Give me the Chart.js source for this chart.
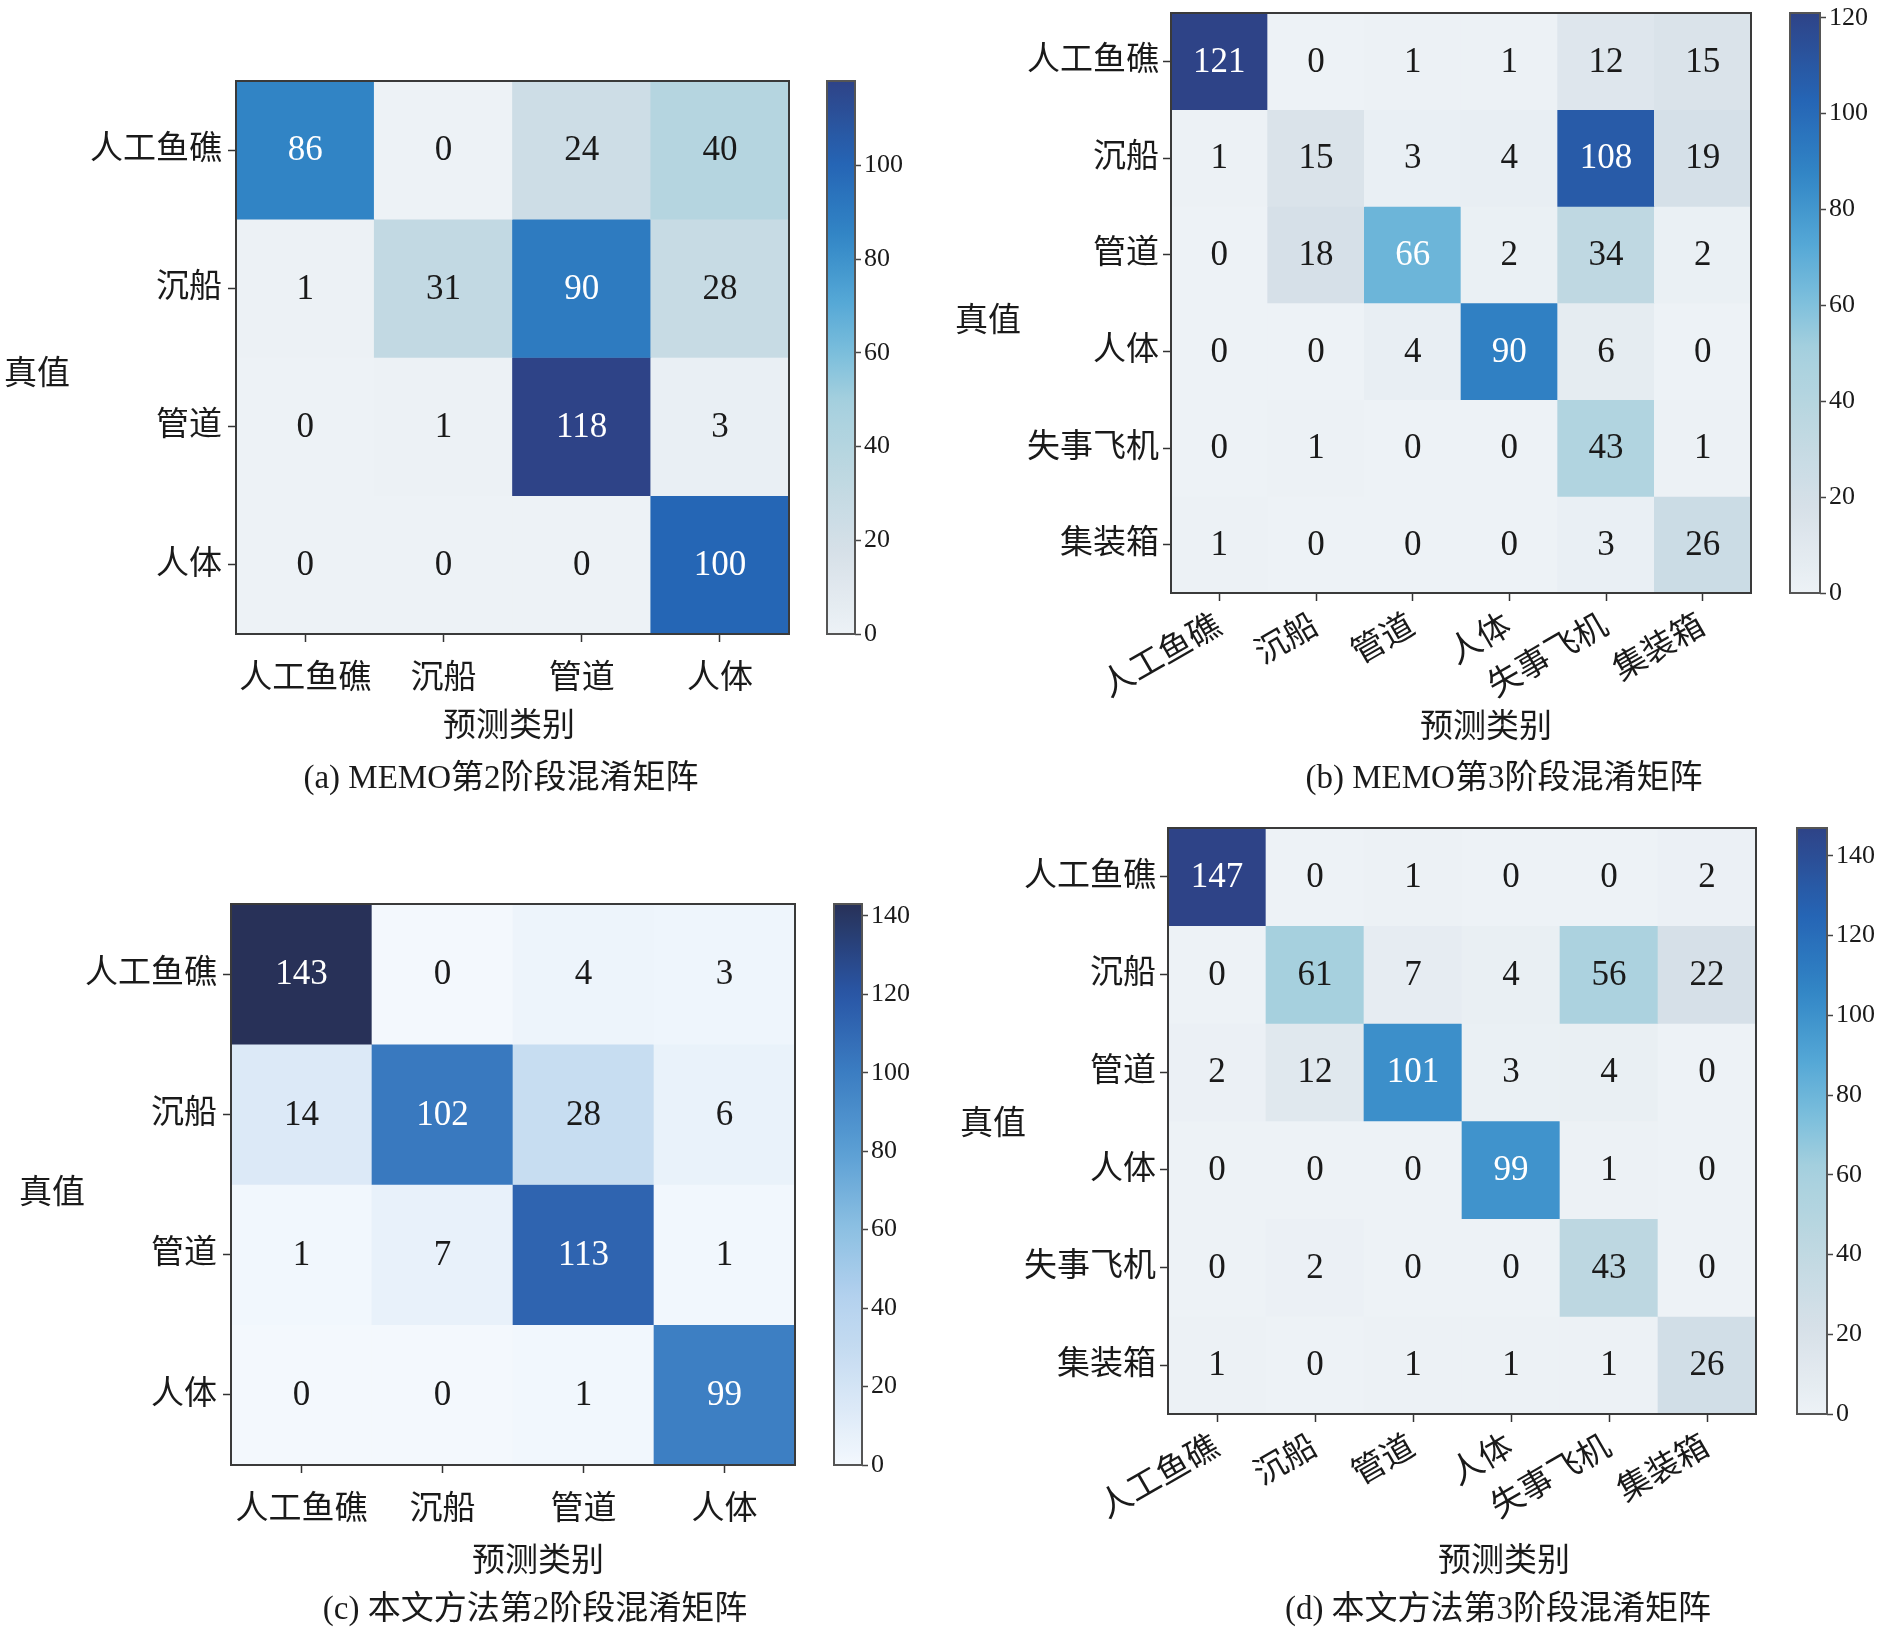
<!DOCTYPE html>
<html><head><meta charset="utf-8">
<script src="https://cdn.jsdelivr.net/npm/chart.js@4.4.1/dist/chart.umd.min.js"></script>
<style>
html,body{margin:0;padding:0;background:#fff;}
body{width:1885px;height:1627px;position:relative;overflow:hidden;}
canvas{position:absolute;}
</style></head><body>
<canvas id="hmA" width="942" height="813" style="left:0px;top:0px;width:942px;height:813px"></canvas>
<canvas id="hmB" width="943" height="813" style="left:942px;top:0px;width:943px;height:813px"></canvas>
<canvas id="hmC" width="942" height="814" style="left:0px;top:813px;width:942px;height:814px"></canvas>
<canvas id="hmD" width="943" height="814" style="left:942px;top:813px;width:943px;height:814px"></canvas>
<canvas id="cbA" width="120" height="600" style="left:815px;top:60px;width:120px;height:600px"></canvas>
<canvas id="cbB" width="105" height="610" style="left:1780px;top:0px;width:105px;height:610px"></canvas>
<canvas id="cbC" width="120" height="610" style="left:822px;top:880px;width:120px;height:610px"></canvas>
<canvas id="cbD" width="100" height="630" style="left:1785px;top:805px;width:100px;height:630px"></canvas>
<script>
// ---------------- data ----------------
const classes4 = ['人工鱼礁', '沉船', '管道', '人体'];
const classes6 = ['人工鱼礁', '沉船', '管道', '人体', '失事飞机', '集装箱'];

const memoStage2 = [
  [86, 0, 24, 40],
  [1, 31, 90, 28],
  [0, 1, 118, 3],
  [0, 0, 0, 100]
];
const memoStage3 = [
  [121, 0, 1, 1, 12, 15],
  [1, 15, 3, 4, 108, 19],
  [0, 18, 66, 2, 34, 2],
  [0, 0, 4, 90, 6, 0],
  [0, 1, 0, 0, 43, 1],
  [1, 0, 0, 0, 3, 26]
];
const oursStage2 = [
  [143, 0, 4, 3],
  [14, 102, 28, 6],
  [1, 7, 113, 1],
  [0, 0, 1, 99]
];
const oursStage3 = [
  [147, 0, 1, 0, 0, 2],
  [0, 61, 7, 4, 56, 22],
  [2, 12, 101, 3, 4, 0],
  [0, 0, 0, 99, 1, 0],
  [0, 2, 0, 0, 43, 0],
  [1, 0, 1, 1, 1, 26]
];
const colorbarStep = 20;
const yTitle = '真值';
const xTitle = '预测类别';
const captionA = '(a) MEMO第2阶段混淆矩阵';
const captionB = '(b) MEMO第3阶段混淆矩阵';
const captionC = '(c) 本文方法第2阶段混淆矩阵';
const captionD = '(d) 本文方法第3阶段混淆矩阵';

// ---------------- styles ----------------
const FONT = '"Liberation Serif", "Noto Sans CJK SC", serif';
const TXT = '#1a1a1a';

function hexToRgb(h){ const n = parseInt(h.slice(1),16); return [(n>>16)&255,(n>>8)&255,n&255]; }
function makeCmap(stops){
  const s = stops.map(([t,c]) => [t, hexToRgb(c)]);
  return function(t){
    t = Math.max(0, Math.min(1, t));
    for (let i = 1; i < s.length; i++){
      if (t <= s[i][0]){
        const [t0,c0] = s[i-1], [t1,c1] = s[i];
        const f = (t - t0) / (t1 - t0 || 1);
        const c = c0.map((v,k) => Math.round(v + (c1[k]-v)*f));
        return `rgb(${c[0]},${c[1]},${c[2]})`;
      }
    }
    const c = s[s.length-1][1];
    return `rgb(${c[0]},${c[1]},${c[2]})`;
  };
}
const cmapIce = makeCmap([
  [0.00,'#edf2f6'],[0.15,'#d6e0e8'],[0.30,'#bcd7e1'],[0.42,'#a5d0de'],
  [0.50,'#7fc0dc'],[0.60,'#55a8d6'],[0.72,'#3286c6'],[0.85,'#2565b5'],[1.00,'#2e4387']
]);
const cmapBlues = makeCmap([
  [0.00,'#f3f8fd'],[0.10,'#dce9f7'],[0.20,'#c6dcf1'],[0.30,'#b3d1ee'],[0.42,'#8dc0e2'],
  [0.56,'#5a9fd4'],[0.70,'#3b7dc2'],[0.84,'#2956a6'],[1.00,'#283158']
]);

const panelPlugin = {
  id: 'panelText',
  afterDatasetsDraw(chart, args, opts){
    const ctx = chart.ctx;
    ctx.save();
    if (opts.values){
      ctx.font = '35px "Liberation Serif"';
      ctx.textAlign = 'center';
      ctx.textBaseline = 'middle';
      chart.data.datasets.forEach((ds, r) => {
        const meta = chart.getDatasetMeta(r);
        meta.data.forEach((el, c) => {
          const p = el.getProps(['x','y','base'], true);
          const v = ds.values[c];
          ctx.fillStyle = v > opts.vmax / 2 ? '#ffffff' : TXT;
          ctx.fillText(String(v), p.x, (p.y + p.base) / 2 + 1);
        });
      });
    }
    const a = chart.chartArea;
    ctx.strokeStyle = opts.frameColor || '#3a3a3a';
    ctx.lineWidth = 2;
    ctx.strokeRect(a.left, a.top, a.right - a.left, a.bottom - a.top);
    ctx.restore();
  },
  afterDraw(chart, args, opts){
    const ctx = chart.ctx;
    ctx.save();
    ctx.fillStyle = TXT;
    ctx.textAlign = 'center';
    ctx.textBaseline = 'middle';
    ctx.font = '33px ' + FONT;
    if (opts.yTitle) ctx.fillText(opts.yTitle.text, opts.yTitle.x, opts.yTitle.y);
    if (opts.xTitle) ctx.fillText(opts.xTitle.text, opts.xTitle.x, opts.xTitle.y);
    if (opts.caption){
      ctx.font = '33px ' + FONT;
      ctx.fillText(opts.caption.text, opts.caption.x, opts.caption.y);
    }
    ctx.restore();
  }
};

function noPad(s){ s.paddingTop = 0; s.paddingBottom = 0; s.paddingLeft = 0; s.paddingRight = 0; }

function heatmap(id, P){
  const n = P.rows.length;
  const datasets = P.matrix.map((row, r) => ({
    data: row.map(() => [r, r + 1]),
    values: row,
    backgroundColor: row.map(v => P.cmap(v / P.vmax)),
    borderWidth: 0,
    grouped: false,
    barPercentage: 1,
    categoryPercentage: 1
  }));
  return new Chart(document.getElementById(id), {
    type: 'bar',
    data: { labels: P.cols, datasets },
    options: {
      responsive: false,
      animation: false,
      events: [],
      layout: { padding: { left: 0, top: P.top, right: P.right, bottom: 0 } },
      plugins: {
        legend: { display: false },
        tooltip: { enabled: false },
        panelText: {
          values: true, vmax: P.vmax,
          yTitle: { text: yTitle, x: P.yTitleX, y: P.yTitleY },
          xTitle: { text: xTitle, x: P.xTitleX, y: P.xTitleY },
          caption: { text: P.caption, x: P.capX, y: P.capY }
        }
      },
      scales: {
        x: {
          type: 'category',
          offset: true,
          grid: { offset: false, drawOnChartArea: false, drawTicks: true, tickLength: 8, tickColor: '#333', tickWidth: 1.5 },
          border: { display: false },
          ticks: { font: { family: FONT, size: 33 }, color: TXT, padding: P.xPad, minRotation: P.rot, maxRotation: P.rot, autoSkip: false },
          afterFit: s => { s.height = P.xH; noPad(s); }
        },
        y: {
          type: 'linear',
          reverse: true,
          min: 0,
          max: n,
          afterBuildTicks: s => { s.ticks = P.rows.map((_, i) => ({ value: i + 0.5 })); },
          grid: { drawOnChartArea: false, drawTicks: true, tickLength: 8, tickColor: '#333', tickWidth: 1.5 },
          border: { display: false },
          ticks: { callback: (v, i) => P.rows[i], font: { family: FONT, size: 33 }, color: TXT, padding: P.yPad, autoSkip: false },
          afterFit: s => { s.width = P.yW; noPad(s); }
        }
      }
    },
    plugins: [panelPlugin]
  });
}

function colorbar(id, P){
  return new Chart(document.getElementById(id), {
    type: 'bar',
    data: {
      labels: [''],
      datasets: [{
        data: [[0, P.vmax]],
        backgroundColor: (c) => {
          const a = c.chart.chartArea;
          if (!a) return P.cmap(0.5);
          const g = c.chart.ctx.createLinearGradient(0, a.bottom, 0, a.top);
          for (let i = 0; i <= 40; i++) g.addColorStop(i / 40, P.cmap(i / 40));
          return g;
        },
        borderWidth: 0,
        barPercentage: 1,
        categoryPercentage: 1
      }]
    },
    options: {
      responsive: false,
      animation: false,
      events: [],
      layout: { padding: { left: P.left, top: P.top, bottom: P.bottom, right: 0 } },
      plugins: { legend: { display: false }, tooltip: { enabled: false }, panelText: { values: false, frameColor: '#555' } },
      scales: {
        x: { display: false },
        y: {
          position: 'right',
          min: 0,
          max: P.vmax,
          ticks: { stepSize: colorbarStep, includeBounds: false, font: { family: '"Liberation Serif"', size: 26 }, color: TXT, padding: 3 },
          grid: { drawOnChartArea: false, drawTicks: true, tickLength: 6, tickColor: '#444', tickWidth: 1.5 },
          border: { display: false },
          afterFit: s => { s.width = P.w; noPad(s); }
        }
      }
    },
    plugins: [panelPlugin]
  });
}

const maxOf = m => Math.max(...m.flat());

// (a)
heatmap('hmA', {
  rows: classes4, cols: classes4, matrix: memoStage2, vmax: maxOf(memoStage2), cmap: cmapIce,
  top: 81, right: 153, yW: 236, xH: 179, xPad: 18, yPad: 6, rot: 0,
  xTitleX: 509, xTitleY: 727,
  yTitleX: 37, yTitleY: 375, caption: captionA, capX: 501, capY: 779
});
colorbar('cbA', { vmax: maxOf(memoStage2), cmap: cmapIce, left: 12, top: 21, bottom: 26, w: 80 });

// (b)
heatmap('hmB', {
  rows: classes6, cols: classes6, matrix: memoStage3, vmax: maxOf(memoStage3), cmap: cmapIce,
  top: 13, right: 134, yW: 229, xH: 220, xPad: 6, yPad: 4, rot: 30,
  xTitleX: 544, xTitleY: 728,
  yTitleX: 46, yTitleY: 322, caption: captionB, capX: 562, capY: 779
});
colorbar('cbB', { vmax: maxOf(memoStage3), cmap: cmapIce, left: 10, top: 13, bottom: 17, w: 65 });

// (c)
heatmap('hmC', {
  rows: classes4, cols: classes4, matrix: oursStage2, vmax: maxOf(oursStage2), cmap: cmapBlues,
  top: 91, right: 147, yW: 231, xH: 162, xPad: 18, yPad: 6, rot: 0,
  xTitleX: 538, xTitleY: 749,
  yTitleX: 52, yTitleY: 381, caption: captionC, capX: 535, capY: 797
});
colorbar('cbC', { vmax: maxOf(oursStage2), cmap: cmapBlues, left: 12, top: 24, bottom: 25, w: 80 });

// (d)
heatmap('hmD', {
  rows: classes6, cols: classes6, matrix: oursStage3, vmax: maxOf(oursStage3), cmap: cmapIce,
  top: 15, right: 129, yW: 226, xH: 213, xPad: 6, yPad: 4, rot: 30,
  xTitleX: 562, xTitleY: 749,
  yTitleX: 51, yTitleY: 312, caption: captionD, capX: 556, capY: 797
});
colorbar('cbD', { vmax: maxOf(oursStage3), cmap: cmapIce, left: 12, top: 23, bottom: 21, w: 58 });
</script>
</body></html>
